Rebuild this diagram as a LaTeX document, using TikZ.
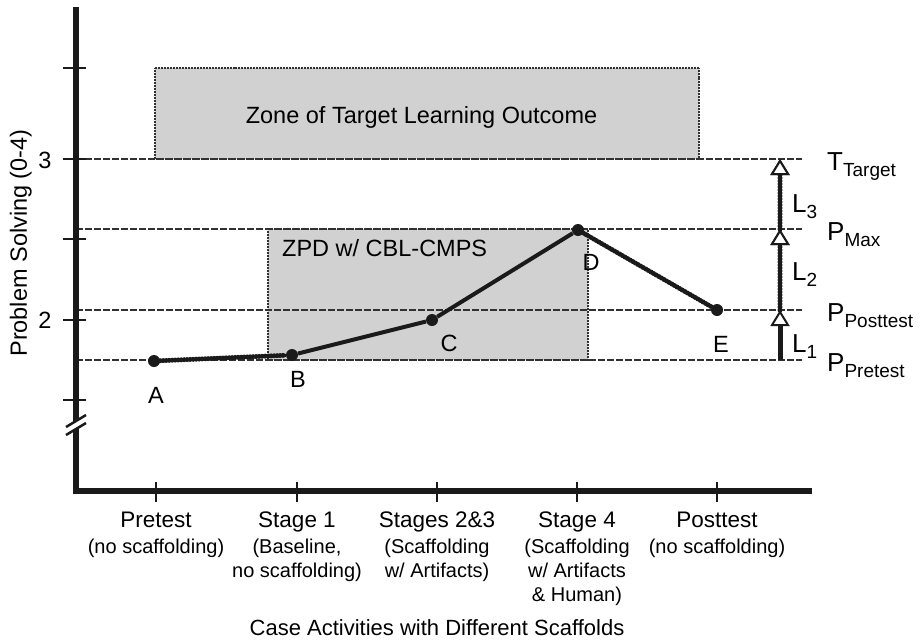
\documentclass[tikz,border=0pt]{standalone}
\usepackage{fontspec}
\setmainfont{Liberation Sans}
\usetikzlibrary{arrows.meta}

\definecolor{zonegray}{HTML}{D1D1D1}
\definecolor{ink}{HTML}{1A1A1A}

\newcommand{\lvl}[2]{{\fontsize{26}{30}\selectfont #1}\raisebox{-6.5pt}{\fontsize{19}{22}\selectfont #2}}
\newcommand{\bigtxt}{\fontsize{23.5}{28}\selectfont}
\newcommand{\stagetxt}{\fontsize{22.5}{26}\selectfont}
\newcommand{\notetxt}{\fontsize{20}{24}\selectfont}

\tikzset{
  axis/.style={line width=6pt, ink, line join=miter},
  tickmark/.style={line width=2.5pt, ink},
  guide/.style={line width=1.4pt, ink!90, dash pattern=on 7pt off 2pt},
  zone/.style={fill=zonegray, draw=ink!90, line width=1.3pt, dash pattern=on 1pt off 0.5pt},
  trace/.style={line width=4pt, ink},
  beads/.style={line width=3pt, ink, postaction={draw, ink, line width=5pt, line cap=round, dash pattern=on 0pt off 3pt}},
  dot/.style={circle, fill=ink, minimum size=12pt},
  gap/.style={-{Triangle[open, fill=white, length=16pt, width=19pt, line width=2pt]}},
}

\begin{document}
\begin{tikzpicture}[x=1pt, y=-1pt, every node/.style={inner sep=0pt}]

\useasboundingbox (0,0) rectangle (920,640);

\coordinate (O) at (76,491);
\coordinate (ytop) at (76,7);
\coordinate (xend) at (812,491);

\draw[zone] (155,68) rectangle (699,159);
\draw[zone] (268,229) rectangle (588,360);

\foreach \y in {159,229,310,360}
  \draw[guide] (76,\y) -- (802,\y);

\draw[axis] (ytop) -- (O) -- (xend);
\foreach \y in {68,159,239,320,400}
  \draw[tickmark] (63,\y) -- (86,\y);
\foreach \x in {156,297,437,577,717}
  \draw[tickmark] (\x,482) -- (\x,502);

\fill[white] (66,426) -- (86,414) -- (86,422) -- (66,434) -- cycle;
\draw[line width=2.5pt, ink] (66,427) -- (86,415) (66,435) -- (86,423);

\node[anchor=base, font=\bigtxt] (three) at (45,168) {3};
\node[anchor=base, font=\bigtxt] (two) at (45,328) {2};
\node[anchor=base, rotate=90, font=\bigtxt] (ylabel) at (27,243) {Problem Solving (0-4)};

\node[anchor=base, font=\bigtxt] (zoneTarget) at (421.5,123) {Zone of Target Learning Outcome};
\node[anchor=base west, font=\bigtxt] (zoneZPD) at (282,256) {ZPD w/ CBL-CMPS};

\node[dot] (A) at (154,361) {};
\node[dot] (B) at (292,355) {};
\node[dot] (C) at (432,320) {};
\node[dot] (D) at (578,230) {};
\node[dot] (E) at (717,310) {};

\draw[beads] (A) -- (B);
\draw[trace] (B) -- (C) -- (D);
\draw[beads] (D) -- (E);

\node[anchor=base, font=\bigtxt] (labA) at (156,403) {A};
\node[anchor=base, font=\bigtxt] (labB) at (298,387) {B};
\node[anchor=base, font=\bigtxt] (labC) at (449,351) {C};
\node[anchor=base, font=\bigtxt] (labD) at (591,270) {D};
\node[anchor=base, font=\bigtxt] (labE) at (721,352) {E};

\coordinate (pre) at (780,360);
\coordinate (post) at (780,310);
\coordinate (max) at (780,229);
\coordinate (target) at (780,159);

\draw[line width=5pt, ink, gap] (pre) -- (post);
\draw[beads, gap] (post) -- (max);
\draw[beads, gap] (max) -- (target);

\node[anchor=base west] (gapL3) at (792,212) {\lvl{L}{3}};
\node[anchor=base west] (gapL2) at (792,280) {\lvl{L}{2}};
\node[anchor=base west] (gapL1) at (792,352) {\lvl{L}{1}};

\node[anchor=base west] (lvlTarget) at (827,170) {\lvl{T}{Target}};
\node[anchor=base west] (lvlMax) at (827,240) {\lvl{P}{Max}};
\node[anchor=base west] (lvlPost) at (827,321) {\lvl{P}{Posttest}};
\node[anchor=base west] (lvlPre) at (827,371) {\lvl{P}{Pretest}};

\foreach \x/\stage/\note [count=\i] in {156/Pretest/{(no scaffolding)}, 297/Stage 1/{(Baseline,\\no scaffolding)}, 437/Stages 2\&3/{(Scaffolding\\w/ Artifacts)}, 577/Stage 4/{(Scaffolding\\w/ Artifacts\\\& Human)}, 717/Posttest/{(no scaffolding)}} {
  \node[anchor=base, font=\stagetxt] (stage\i) at (\x,527) {\stage};
  \node[anchor=north, font=\notetxt, align=center] (note\i) at (\x,538.5) {\note};
}

\node[anchor=base, font=\fontsize{22}{26}\selectfont] (xlabel) at (437,635) {Case Activities with Different Scaffolds};

\end{tikzpicture}
\end{document}
